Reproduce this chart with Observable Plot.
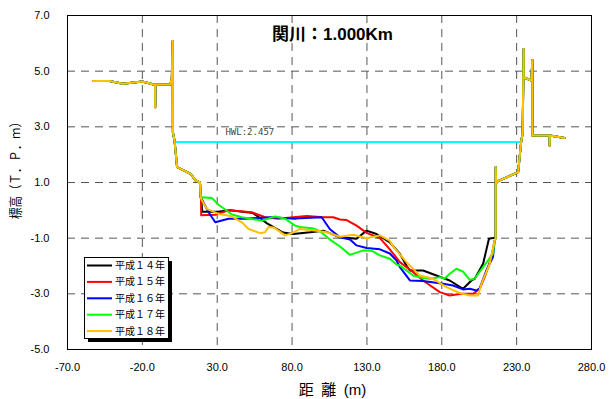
<!DOCTYPE html>
<html><head><meta charset="utf-8">
<script src="https://cdn.jsdelivr.net/npm/d3@7"></script>
<script src="https://cdn.jsdelivr.net/npm/@observablehq/plot@0.6"></script>
<style>
body{margin:0;background:#fff;}
#chart{width:615px;height:399px;}
</style></head><body><div id="chart"></div>
<script>
const title = "関川：1.000Km";
const xLabel = "距\u2002離\u2002(m)";
const yLabel = "標高（Ｔ．Ｐ．ｍ）";
const years = ["平成１４年","平成１５年","平成１６年","平成１７年","平成１８年"];
const colors = ["#000000","#ff0000","#0000ff","#00ff00","#ffc000"];
const xTicks = [-70,-20,30,80,130,180,230,280];
const yTicks = [-5,-3,-1,1,3,5,7];
const hwl = 2.457;
const hwlLabel = "HWL:2.457";
const hwlLabelX = 35.5;
const hwlX = [1.5, 233];

// shared banks
const leftBankX = [-53,-42,-33,-20,-12.5,-11.5,-11.4,-11.3,-1.3,-0.3,0.3,0.4,1.5,3.2,12.5,15.3,18.5,19.0];
const leftBankY = [4.65,4.65,4.55,4.63,4.52,4.52,3.7,4.52,4.52,4.76,6.08,2.8,2.5,1.55,1.3,1.08,1.0,0.45];
const rightBankX = [216,216,216.3,217.5,231,233.1,234,234.7,234.7,239.8,240.5,240.5,252,252,252.2,262];
const rightBankY = [-1.0,1.55,0.98,1.05,1.37,2.5,2.75,5.8,4.78,4.66,5.4,2.69,2.69,2.33,2.69,2.6];

// channel sections per year
const h14x = [19.3,20,30,38.7,54,63.3,74,80.7,92,100.9,112,123,129.8,136.4,145.3,152,156.4,158.7,167.5,176.4,185.3,194.2,199.8,202,207.6,211.5,214.9,215.5];
const h14y = [0.45,-0.05,-0.05,0.0,-0.1,-0.47,-0.8,-0.85,-0.79,-0.73,-0.97,-1.02,-0.73,-0.85,-1.15,-1.56,-1.98,-2.16,-2.16,-2.34,-2.52,-2.82,-2.52,-2.46,-1.92,-1.02,-0.99,-0.99];
const h15x = [19.2,19.3,28.7,37.5,53,62,70.9,80.7,89.8,100.9,107.5,112,116.4,123.1,129.8,138.7,145.3,152,160.9,167.5,178.7,185.3,193.1,200.9,205.3,208.7,213.1,215.3];
const h15y = [0.45,-0.18,-0.16,0.0,-0.07,-0.25,-0.3,-0.25,-0.2,-0.25,-0.25,-0.33,-0.35,-0.55,-0.81,-1.0,-1.4,-1.86,-2.22,-2.52,-2.94,-3.06,-3.0,-3.0,-2.82,-2.4,-1.68,-1.08];
const h16x = [19.2,24.2,28.7,37.5,48.7,66.5,82,85.3,99.8,105.3,112,118.7,123.1,129.8,138.7,145.3,149.8,152,158.7,167.5,180.9,187.5,194.2,198.7,203.1,205.3,209.8,214.2,215.3];
const h16y = [0.45,-0.07,-0.43,-0.3,-0.3,-0.25,-0.3,-0.28,-0.25,-0.68,-0.97,-1.05,-1.26,-1.35,-1.4,-1.55,-1.8,-2.04,-2.52,-2.54,-2.64,-2.7,-2.84,-2.82,-2.88,-2.8,-2.16,-1.68,-1.1];
const h17x = [19.8,26.5,30.9,39.8,46.5,59.8,68.7,75.3,82,85.3,94.2,98.7,105.3,112,118.7,127.5,133,138.7,145.3,149.8,152,160.9,167.5,172,178.7,182,185.3,189.8,194.2,198.7,202,207.6,214.2,215.3];
const h17y = [0.47,0.44,0.2,-0.15,-0.25,-0.37,-0.22,-0.3,-0.55,-0.6,-0.65,-0.75,-1.05,-1.3,-1.6,-1.44,-1.45,-1.62,-1.74,-1.95,-1.98,-2.34,-2.43,-2.46,-2.4,-2.45,-2.28,-2.1,-2.2,-2.5,-2.45,-2.04,-1.56,-1.1];
const h18x = [19.8,23.1,30.9,39,46.5,50.9,58.7,62,64.2,68,75.3,80,85.3,96.4,103.1,112,120.9,129.8,138.7,145.3,147.5,156.4,165.3,174.2,183.1,192,198.7,204.2,206.5,212,215.3];
const h18y = [0.35,0.05,-0.13,-0.2,-0.43,-0.67,-0.82,-0.79,-0.6,-0.62,-0.9,-0.82,-0.67,-0.73,-0.79,-0.95,-0.88,-1.0,-0.9,-1.1,-1.3,-1.86,-2.34,-2.46,-2.76,-2.97,-3.06,-3.06,-2.64,-1.92,-1.08];

const channelX = [h14x,h15x,h16x,h17x,h18x];
const channelY = [h14y,h15y,h16y,h17y,h18y];

const rows = [];
years.forEach((yr, i) => {
  const xs = [...leftBankX, ...channelX[i], ...rightBankX];
  const ys = [...leftBankY, ...channelY[i], ...rightBankY];
  xs.forEach((x, j) => rows.push({year: yr, x, y: ys[j]}));
});
const hwlRows = hwlX.map(x => ({x, y: hwl}));

const plot = Plot.plot({
  width: 615, height: 399,
  marginTop: 15, marginRight: 24, marginBottom: 50, marginLeft: 67,
  style: {fontFamily: "'Liberation Sans', Arial, 'Noto Sans CJK JP', sans-serif", fontSize: "11px", background: "white", color: "black"},
  x: {domain: [-70, 280]},
  y: {domain: [-5, 7]},
  color: {domain: years, range: colors},
  marks: [
    Plot.ruleX(xTicks.slice(1, -1), {stroke: "#555", strokeDasharray: "8,6", strokeWidth: 1}),
    Plot.ruleY(yTicks.slice(1, -1), {stroke: "#555", strokeDasharray: "8,6", strokeWidth: 1}),
    Plot.axisX({ticks: xTicks, tickFormat: d => d.toFixed(1), tickSize: 0, tickPadding: 14, label: null}),
    Plot.axisY({ticks: yTicks, tickFormat: d => d.toFixed(1), tickSize: 0, tickPadding: 18, label: null}),
    Plot.line(hwlRows, {x: "x", y: "y", stroke: "#00ffff", strokeWidth: 2}),
    Plot.text([hwlLabel], {x: hwlLabelX, y: hwl, text: d => d, dy: -10, textAnchor: "start", fontSize: 9, fontFamily: "'DejaVu Sans Mono', monospace", fill: "#444"}),
    Plot.line(rows, {x: "x", y: "y", z: "year", stroke: "year", strokeWidth: 2, curve: "linear"}),
    Plot.frame({stroke: "black", strokeWidth: 1}),
    Plot.text([title], {frameAnchor: "top", text: d => d, dx: 3, dy: 12, fontSize: 17, fontWeight: "bold", fill: "black"}),
    Plot.text([xLabel], {frameAnchor: "bottom", text: d => d, dx: 3, dy: 45, fontSize: 15, fill: "black"}),
    Plot.text([yLabel], {frameAnchor: "left", textAnchor: "middle", text: d => d, dx: -52, dy: -15, rotate: -90, fontSize: 13, fill: "black", className: "ylab"})
  ]
});

const svg = d3.select(plot);
svg.selectAll(".ylab text").attr("textLength", 103).attr("lengthAdjust", "spacingAndGlyphs");

// legend box drawn inside the plot frame
const lg = svg.append("g").attr("font-family", "'Noto Sans CJK JP', sans-serif").attr("font-size", 10).attr("text-anchor", "start");
lg.append("rect").attr("x", 88).attr("y", 261).attr("width", 84).attr("height", 81).attr("fill", "black");
lg.append("rect").attr("x", 84.5).attr("y", 257.5).attr("width", 84).attr("height", 81).attr("fill", "white").attr("stroke", "black");
years.forEach((yr, i) => {
  const yy = 265.5 + i * 16.4;
  lg.append("line").attr("x1", 87).attr("x2", 112).attr("y1", yy).attr("y2", yy).attr("stroke", colors[i]).attr("stroke-width", 2);
  lg.append("text").attr("x", 115).attr("y", yy).attr("dy", "0.35em").attr("fill", "black").attr("text-anchor", "start").text(yr);
});

document.getElementById("chart").appendChild(plot);
</script>
</body></html>
